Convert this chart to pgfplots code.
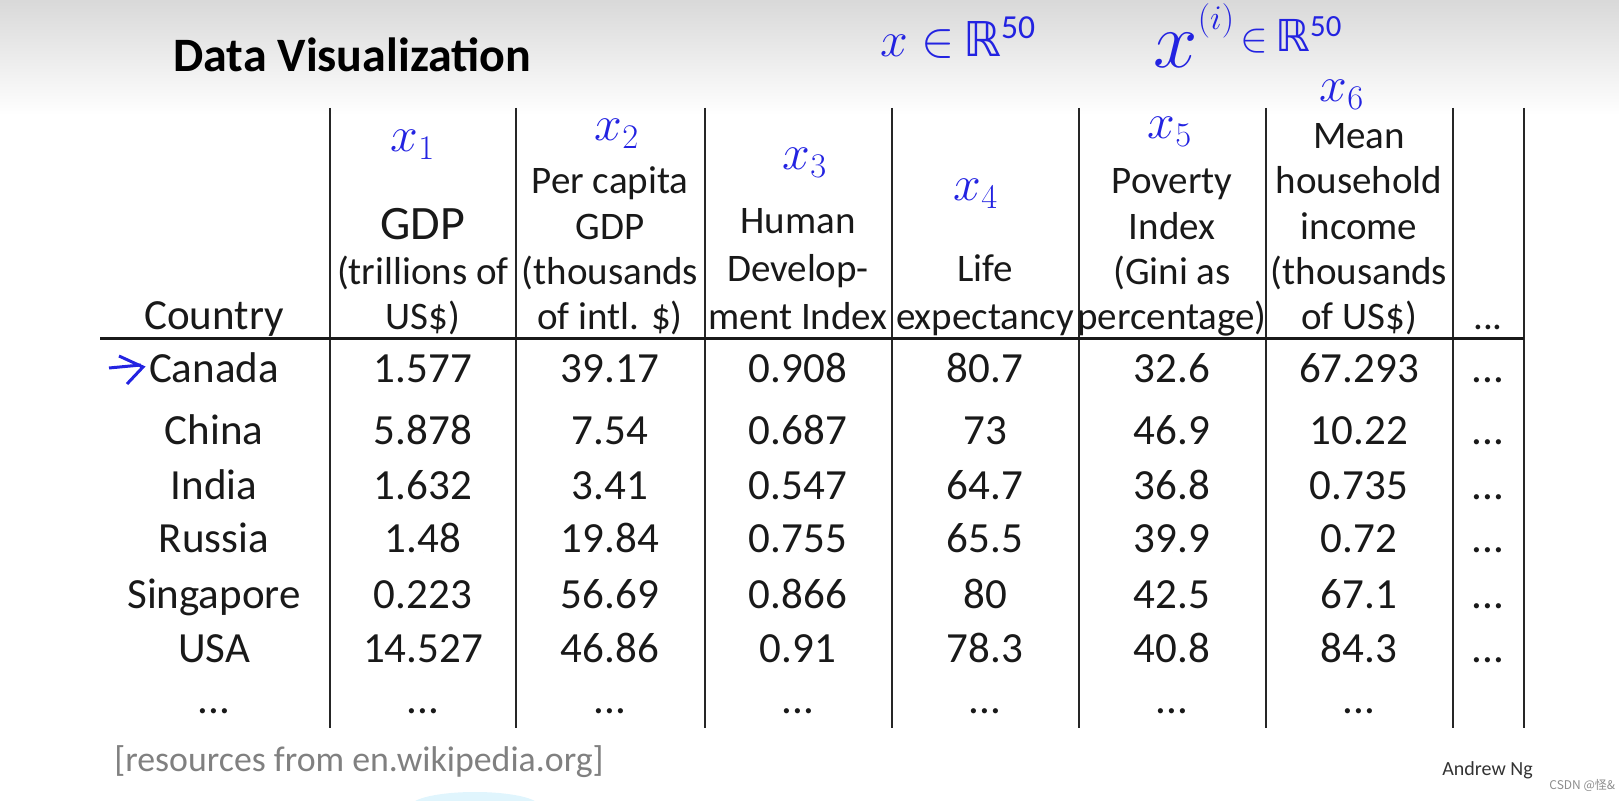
\documentclass[border=0pt]{standalone}
\usepackage{pgfplots}
\pgfplotsset{compat=1.18}
\usepackage{pgfplotstable}
\usepackage{fontspec}
\setmainfont{Carlito}
\newfontfamily\cjk{Noto Sans CJK SC}
\newfontfamily\dv{DejaVu Sans}
\definecolor{ink}{RGB}{35,35,225}
\definecolor{txt}{RGB}{25,25,25}

% body rows: baseline position (px from top) and cell texts
\pgfplotstableread{
y country gdp pcgdp hdi life gini income more
383 Canada 1.577 39.17 0.908 80.7 32.6 67.293 ...
445 China 5.878 7.54 0.687 73 46.9 10.22 ...
500 India 1.632 3.41 0.547 64.7 36.8 0.735 ...
553 Russia 1.48 19.84 0.755 65.5 39.9 0.72 ...
609 Singapore 0.223 56.69 0.866 80 42.5 67.1 ...
663 USA 14.527 46.86 0.91 78.3 40.8 84.3 ...
714 ... ... ... ... ... ... ... ...
}\rows

\newcommand\hdfont{\fontsize{19.5}{22}\selectfont}
\newcommand\hd[3]{\node[anchor=base, inner sep=0pt, text=txt, font=\hdfont] at (axis cs:#1,#2) {#3};}
\newcommand\hw[3]{\node[anchor=center, inner sep=0pt, text=ink, font=\fontsize{26}{28}\selectfont] at (axis cs:#1,#2) {#3};}

\pgfplotsset{cell/.style={only marks, mark=*, mark size=0pt,
  mark options={draw=none, fill=none},
  nodes near coords, point meta=explicit symbolic,
  every node near coord/.style={anchor=base, inner sep=0pt, text=txt,
    font=\fontsize{21.5}{24}\selectfont}}}

\begin{document}
\begin{tikzpicture}
\begin{axis}[
  scale only axis, width=809.5pt, height=400.5pt,
  xmin=0, xmax=1619, ymin=0, ymax=801, y dir=reverse,
  hide axis, clip=false,
]
\coordinate (TL) at (axis cs:0,0);
\coordinate (BR) at (axis cs:1619,801);
\fill[top color=black!15, bottom color=white] (axis cs:0,0) rectangle (axis cs:1619,115);
\begin{scope}
\clip (axis cs:0,0) rectangle (axis cs:1619,801);
\fill[cyan!12] (axis cs:475,806) ellipse [x radius=32pt, y radius=7pt];
\end{scope}

% grid lines
\pgfplotsinvokeforeach{330,516,705,892,1079,1266,1453,1524}{
  \addplot[black!85, line width=0.9pt] coordinates {(#1,108) (#1,728)};
}
\addplot[black!90, line width=1.5pt] coordinates {(100,339) (1524,339)};

% title
\node[anchor=base west, inner sep=0pt, text=black, font=\fontsize{24}{27}\selectfont\bfseries] at (axis cs:173,72) {Data Visualization};

% header
\node[anchor=base, inner sep=0pt, text=txt, font=\fontsize{21.5}{24}\selectfont] at (axis cs:214,330) {Country};
\node[anchor=base, inner sep=0pt, text=txt, font=\fontsize{24}{26}\selectfont] at (axis cs:423,240) {GDP};
\hd{423}{285}{(trillions of}
\hd{423}{330}{US\$)}
\hd{610}{194}{Per capita}
\hd{610}{240}{GDP}
\hd{610}{285}{(thousands}
\hd{610}{330}{of intl. \$)}
\hd{798}{234}{Human}
\hd{798}{282}{Develop-}
\hd{798}{330}{ment Index}
\hd{985}{282}{Life}
\hd{985}{330}{expectancy}
\hd{1172}{194}{Poverty}
\hd{1172}{240}{Index}
\hd{1172}{285}{(Gini as}
\hd{1172}{330}{percentage)}
\hd{1359}{149}{Mean}
\hd{1359}{194}{household}
\hd{1359}{240}{income}
\hd{1359}{285}{(thousands}
\hd{1359}{330}{of US\$)}
\hd{1488}{330}{...}

% body
\addplot[cell] table[x expr=214, y=y, meta=country] {\rows};
\addplot[cell] table[x expr=423, y=y, meta=gdp] {\rows};
\addplot[cell] table[x expr=610, y=y, meta=pcgdp] {\rows};
\addplot[cell] table[x expr=798, y=y, meta=hdi] {\rows};
\addplot[cell] table[x expr=985, y=y, meta=life] {\rows};
\addplot[cell] table[x expr=1172, y=y, meta=gini] {\rows};
\addplot[cell] table[x expr=1359, y=y, meta=income] {\rows};
\addplot[cell, skip coords between index={6}{7}] table[x expr=1488, y=y, meta=more] {\rows};

% handwritten annotations
\addplot[ink, line width=1.5pt] coordinates {(109,368) (141,365)};
\addplot[ink, line width=1.5pt] coordinates {(119,356) (143,367) (127,384)};
\hw{413}{145}{$x_1$}
\hw{617}{134}{$x_2$}
\hw{805}{163}{$x_3$}
\hw{976}{194}{$x_4$}
\hw{1170}{132}{$x_5$}
\hw{1342}{95}{$x_6$}
\node[anchor=base west, inner sep=0pt, text=ink, font=\fontsize{24}{26}\selectfont] at (axis cs:880,57) {$x\in$\,{\dv ℝ}\textsuperscript{50}};
\node[anchor=center, inner sep=0pt, text=ink, scale=1.6, font=\fontsize{24}{26}\selectfont] at (axis cs:1176,50) {$x$};
\node[anchor=center, inner sep=0pt, text=ink, font=\fontsize{18}{20}\selectfont] at (axis cs:1216,21) {$(i)$};
\node[anchor=base west, inner sep=0pt, text=ink, font=\fontsize{22}{24}\selectfont] at (axis cs:1240,52) {$\in$\,{\dv ℝ}\textsuperscript{50}};

% footer
\node[anchor=base west, inner sep=0pt, text=black!50, font=\fontsize{17.9}{20}\selectfont] at (axis cs:114,772) {[resources from en.wikipedia.org]};
\node[anchor=base west, inner sep=0pt, text=black!80, font=\fontsize{10}{12}\selectfont] at (axis cs:1442,776) {Andrew Ng};
\node[anchor=base west, inner sep=0pt, text=black!45, font=\cjk\fontsize{6}{7}\selectfont] at (axis cs:1549,790) {CSDN @怪\&};
\end{axis}
\pgfresetboundingbox
\path (TL) rectangle (BR);
\end{tikzpicture}
\end{document}
